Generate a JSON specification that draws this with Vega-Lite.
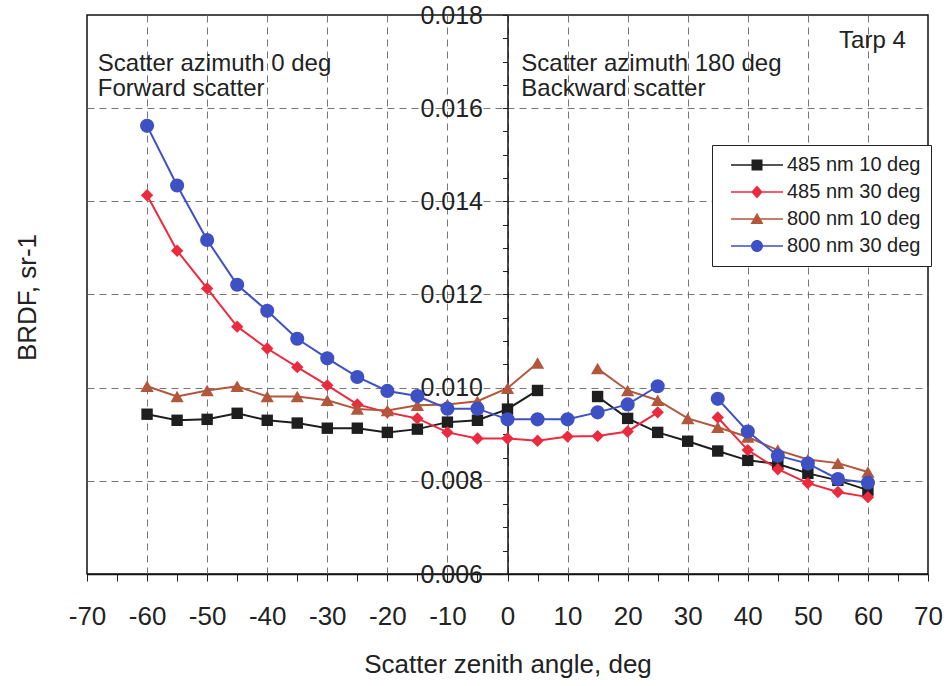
{
  "$schema": "https://vega.github.io/schema/vega-lite/v6.json",
  "width": 841,
  "height": 559,
  "autosize": "none",
  "padding": {"left": 87, "top": 15, "right": 21, "bottom": 112},
  "background": "white",
  "config": {
    "font": "Liberation Sans",
    "view": {"stroke": "#111", "strokeWidth": 1.5}
  },
  "resolve": {"scale": {"shape": "independent", "size": "independent"}, "legend": {"color": "independent", "shape": "independent", "size": "independent"}},
  "datasets": {
    "brdf": [
      {"series": "485 nm 10 deg", "angle": -60, "brdf": 0.00943},
      {"series": "485 nm 10 deg", "angle": -55, "brdf": 0.00930},
      {"series": "485 nm 10 deg", "angle": -50, "brdf": 0.00932},
      {"series": "485 nm 10 deg", "angle": -45, "brdf": 0.00945},
      {"series": "485 nm 10 deg", "angle": -40, "brdf": 0.00930},
      {"series": "485 nm 10 deg", "angle": -35, "brdf": 0.00924},
      {"series": "485 nm 10 deg", "angle": -30, "brdf": 0.00913},
      {"series": "485 nm 10 deg", "angle": -25, "brdf": 0.00913},
      {"series": "485 nm 10 deg", "angle": -20, "brdf": 0.00904},
      {"series": "485 nm 10 deg", "angle": -15, "brdf": 0.00911},
      {"series": "485 nm 10 deg", "angle": -10, "brdf": 0.00926},
      {"series": "485 nm 10 deg", "angle": -5, "brdf": 0.00930},
      {"series": "485 nm 10 deg", "angle": 0, "brdf": 0.00954},
      {"series": "485 nm 10 deg", "angle": 5, "brdf": 0.00994},
      {"series": "485 nm 10 deg", "angle": 10, "brdf": null},
      {"series": "485 nm 10 deg", "angle": 15, "brdf": 0.00981},
      {"series": "485 nm 10 deg", "angle": 20, "brdf": 0.00934},
      {"series": "485 nm 10 deg", "angle": 25, "brdf": 0.00904},
      {"series": "485 nm 10 deg", "angle": 30, "brdf": 0.00885},
      {"series": "485 nm 10 deg", "angle": 35, "brdf": 0.00864},
      {"series": "485 nm 10 deg", "angle": 40, "brdf": 0.00844},
      {"series": "485 nm 10 deg", "angle": 45, "brdf": 0.00836},
      {"series": "485 nm 10 deg", "angle": 50, "brdf": 0.00816},
      {"series": "485 nm 10 deg", "angle": 55, "brdf": 0.00801},
      {"series": "485 nm 10 deg", "angle": 60, "brdf": 0.00780},
      {"series": "485 nm 30 deg", "angle": -60, "brdf": 0.01413},
      {"series": "485 nm 30 deg", "angle": -55, "brdf": 0.01294},
      {"series": "485 nm 30 deg", "angle": -50, "brdf": 0.01213},
      {"series": "485 nm 30 deg", "angle": -45, "brdf": 0.01131},
      {"series": "485 nm 30 deg", "angle": -40, "brdf": 0.01084},
      {"series": "485 nm 30 deg", "angle": -35, "brdf": 0.01044},
      {"series": "485 nm 30 deg", "angle": -30, "brdf": 0.01005},
      {"series": "485 nm 30 deg", "angle": -25, "brdf": 0.00964},
      {"series": "485 nm 30 deg", "angle": -20, "brdf": 0.00947},
      {"series": "485 nm 30 deg", "angle": -15, "brdf": 0.00934},
      {"series": "485 nm 30 deg", "angle": -10, "brdf": 0.00904},
      {"series": "485 nm 30 deg", "angle": -5, "brdf": 0.00891},
      {"series": "485 nm 30 deg", "angle": 0, "brdf": 0.00891},
      {"series": "485 nm 30 deg", "angle": 5, "brdf": 0.00886},
      {"series": "485 nm 30 deg", "angle": 10, "brdf": 0.00895},
      {"series": "485 nm 30 deg", "angle": 15, "brdf": 0.00896},
      {"series": "485 nm 30 deg", "angle": 20, "brdf": 0.00906},
      {"series": "485 nm 30 deg", "angle": 25, "brdf": 0.00947},
      {"series": "485 nm 30 deg", "angle": 30, "brdf": null},
      {"series": "485 nm 30 deg", "angle": 35, "brdf": 0.00936},
      {"series": "485 nm 30 deg", "angle": 40, "brdf": 0.00866},
      {"series": "485 nm 30 deg", "angle": 45, "brdf": 0.00825},
      {"series": "485 nm 30 deg", "angle": 50, "brdf": 0.00795},
      {"series": "485 nm 30 deg", "angle": 55, "brdf": 0.00776},
      {"series": "485 nm 30 deg", "angle": 60, "brdf": 0.00765},
      {"series": "800 nm 10 deg", "angle": -60, "brdf": 0.01003},
      {"series": "800 nm 10 deg", "angle": -55, "brdf": 0.00981},
      {"series": "800 nm 10 deg", "angle": -50, "brdf": 0.00994},
      {"series": "800 nm 10 deg", "angle": -45, "brdf": 0.01003},
      {"series": "800 nm 10 deg", "angle": -40, "brdf": 0.00981},
      {"series": "800 nm 10 deg", "angle": -35, "brdf": 0.00981},
      {"series": "800 nm 10 deg", "angle": -30, "brdf": 0.00973},
      {"series": "800 nm 10 deg", "angle": -25, "brdf": 0.00954},
      {"series": "800 nm 10 deg", "angle": -20, "brdf": 0.00951},
      {"series": "800 nm 10 deg", "angle": -15, "brdf": 0.00962},
      {"series": "800 nm 10 deg", "angle": -10, "brdf": 0.00964},
      {"series": "800 nm 10 deg", "angle": -5, "brdf": 0.00971},
      {"series": "800 nm 10 deg", "angle": 0, "brdf": 0.00999},
      {"series": "800 nm 10 deg", "angle": 5, "brdf": 0.01053},
      {"series": "800 nm 10 deg", "angle": 10, "brdf": null},
      {"series": "800 nm 10 deg", "angle": 15, "brdf": 0.01041},
      {"series": "800 nm 10 deg", "angle": 20, "brdf": 0.00994},
      {"series": "800 nm 10 deg", "angle": 25, "brdf": 0.00973},
      {"series": "800 nm 10 deg", "angle": 30, "brdf": 0.00934},
      {"series": "800 nm 10 deg", "angle": 35, "brdf": 0.00915},
      {"series": "800 nm 10 deg", "angle": 40, "brdf": 0.00894},
      {"series": "800 nm 10 deg", "angle": 45, "brdf": 0.00866},
      {"series": "800 nm 10 deg", "angle": 50, "brdf": 0.00846},
      {"series": "800 nm 10 deg", "angle": 55, "brdf": 0.00838},
      {"series": "800 nm 10 deg", "angle": 60, "brdf": 0.00819},
      {"series": "800 nm 30 deg", "angle": -60, "brdf": 0.01562},
      {"series": "800 nm 30 deg", "angle": -55, "brdf": 0.01434},
      {"series": "800 nm 30 deg", "angle": -50, "brdf": 0.01317},
      {"series": "800 nm 30 deg", "angle": -45, "brdf": 0.01221},
      {"series": "800 nm 30 deg", "angle": -40, "brdf": 0.01165},
      {"series": "800 nm 30 deg", "angle": -35, "brdf": 0.01105},
      {"series": "800 nm 30 deg", "angle": -30, "brdf": 0.01063},
      {"series": "800 nm 30 deg", "angle": -25, "brdf": 0.01023},
      {"series": "800 nm 30 deg", "angle": -20, "brdf": 0.00993},
      {"series": "800 nm 30 deg", "angle": -15, "brdf": 0.00982},
      {"series": "800 nm 30 deg", "angle": -10, "brdf": 0.00955},
      {"series": "800 nm 30 deg", "angle": -5, "brdf": 0.00955},
      {"series": "800 nm 30 deg", "angle": 0, "brdf": 0.00932},
      {"series": "800 nm 30 deg", "angle": 5, "brdf": 0.00932},
      {"series": "800 nm 30 deg", "angle": 10, "brdf": 0.00932},
      {"series": "800 nm 30 deg", "angle": 15, "brdf": 0.00947},
      {"series": "800 nm 30 deg", "angle": 20, "brdf": 0.00964},
      {"series": "800 nm 30 deg", "angle": 25, "brdf": 0.01003},
      {"series": "800 nm 30 deg", "angle": 30, "brdf": null},
      {"series": "800 nm 30 deg", "angle": 35, "brdf": 0.00976},
      {"series": "800 nm 30 deg", "angle": 40, "brdf": 0.00906},
      {"series": "800 nm 30 deg", "angle": 45, "brdf": 0.00854},
      {"series": "800 nm 30 deg", "angle": 50, "brdf": 0.00837},
      {"series": "800 nm 30 deg", "angle": 55, "brdf": 0.00804},
      {"series": "800 nm 30 deg", "angle": 60, "brdf": 0.00796}
    ],
    "notes": [
      {"angle": -68.2, "brdf": 0.0168, "label": "Scatter azimuth 0 deg"},
      {"angle": -68.2, "brdf": 0.01626, "label": "Forward scatter"},
      {"angle": 2.3, "brdf": 0.0168, "label": "Scatter azimuth 180 deg"},
      {"angle": 2.3, "brdf": 0.01626, "label": "Backward scatter"},
      {"angle": 55.2, "brdf": 0.01729, "label": "Tarp 4"}
    ]
  },
  "encoding": {
    "x": {
      "field": "angle",
      "type": "quantitative",
      "scale": {"domain": [-70, 70], "nice": false, "zero": false},
      "axis": {
        "title": "Scatter zenith angle, deg",
        "values": [-70, -65, -60, -55, -50, -45, -40, -35, -30, -25, -20, -15, -10, -5, 0, 5, 10, 15, 20, 25, 30, 35, 40, 45, 50, 55, 60, 65, 70],
        "labelExpr": "datum.value % 10 === 0 ? '' + datum.value : ''",
        "labelFont": "Liberation Sans",
        "labelFontSize": 26,
        "labelColor": "#222",
        "labelPadding": 22,
        "labelFlush": false,
        "labelOverlap": false,
        "tickSize": 7,
        "tickColor": "#222",
        "tickWidth": 1,
        "domainColor": "#111",
        "domainWidth": 1.5,
        "grid": true,
        "gridColor": "#777",
        "gridDash": [7, 5],
        "gridWidth": 1,
        "gridOpacity": {"condition": {"test": "datum.value % 10 === 0 && abs(datum.value) < 70", "value": 1}, "value": 0},
        "titleFont": "Liberation Sans",
        "titleFontSize": 26,
        "titleFontWeight": "normal",
        "titleColor": "#222",
        "titleY": 98,
        "titleBaseline": "alphabetic"
      }
    },
    "y": {
      "field": "brdf",
      "type": "quantitative",
      "scale": {"domain": [0.006, 0.018], "nice": false, "zero": false},
      "axis": {
        "title": "BRDF, sr-1",
        "offset": -420.5,
        "values": [0.006, 0.0065, 0.007, 0.0075, 0.008, 0.0085, 0.009, 0.0095, 0.01, 0.0105, 0.011, 0.0115, 0.012, 0.0125, 0.013, 0.0135, 0.014, 0.0145, 0.015, 0.0155, 0.016, 0.0165, 0.017, 0.0175, 0.018],
        "labelExpr": "round(datum.value * 10000) % 20 === 0 ? format(datum.value, '.3f') : ''",
        "labelFont": "Liberation Sans",
        "labelFontSize": 25,
        "labelColor": "#222",
        "labelPadding": 20,
        "labelFlush": false,
        "labelOverlap": false,
        "tickSize": 5,
        "tickColor": "#222",
        "domainColor": "#111",
        "domainWidth": 1.5,
        "grid": true,
        "gridColor": "#777",
        "gridDash": [7, 5],
        "gridWidth": 1,
        "gridOpacity": {"condition": {"test": "round(datum.value * 10000) % 20 === 0 && datum.value > 0.0065 && datum.value < 0.0175", "value": 1}, "value": 0},
        "titleFont": "Liberation Sans",
        "titleFontSize": 26,
        "titleFontWeight": "normal",
        "titleColor": "#222",
        "titleAngle": 270,
        "titleX": -480,
        "titleY": 282,
        "titleAlign": "center",
        "titleBaseline": "middle"
      }
    }
  },
  "layer": [
    {
      "data": {"name": "brdf"},
      "mark": {"type": "line", "strokeWidth": 2},
      "encoding": {
        "color": {
          "field": "series",
          "type": "nominal",
          "sort": ["485 nm 10 deg", "485 nm 30 deg", "800 nm 10 deg", "800 nm 30 deg"],
          "scale": {"domain": ["485 nm 10 deg", "485 nm 30 deg", "800 nm 10 deg", "800 nm 30 deg"], "range": ["#1e1e1e", "#ec2a3e", "#b2573c", "#3e51c4"]},
          "legend": null
        }
      }
    },
    {
      "data": {"name": "brdf"},
      "mark": {"type": "point", "filled": true, "opacity": 1},
      "encoding": {
        "color": {"field": "series", "type": "nominal", "legend": null},
        "shape": {
          "field": "series",
          "type": "nominal",
          "scale": {"domain": ["485 nm 10 deg", "485 nm 30 deg", "800 nm 10 deg", "800 nm 30 deg"], "range": ["square", "diamond", "triangle-up", "circle"]},
          "legend": null
        },
        "size": {
          "field": "series",
          "type": "nominal",
          "scale": {"domain": ["485 nm 10 deg", "485 nm 30 deg", "800 nm 10 deg", "800 nm 30 deg"], "range": [130, 200, 200, 160]},
          "legend": null
        }
      }
    },
    {
      "data": {"name": "brdf"},
      "transform": [{"filter": "false"}],
      "mark": {"type": "point", "filled": true, "opacity": 1},
      "encoding": {
        "color": {
          "field": "series",
          "type": "nominal",
          "legend": {
            "title": null,
            "orient": "none",
            "legendX": 625,
            "legendY": 130,
            "direction": "vertical",
            "strokeColor": "#222",
            "fillColor": "white",
            "padding": 10,
            "labelFont": "Liberation Sans",
            "labelFontSize": 20,
            "labelColor": "#222",
            "labelLimit": 300,
            "symbolSize": 100,
            "symbolOffset": 25,
            "labelOffset": 20,
            "rowPadding": 7,
            "symbolStrokeWidth": 0
          }
        },
        "shape": {
          "field": "series",
          "type": "nominal",
          "scale": {"domain": ["485 nm 10 deg", "485 nm 30 deg", "800 nm 10 deg", "800 nm 30 deg"], "range": ["M-5.2,-0.16H5.2V0.16H-5.2ZM-1.1,-1.1H1.1V1.1H-1.1Z", "M-5.2,-0.16H5.2V0.16H-5.2ZM0,-1.3L1.15,0L0,1.3L-1.15,0Z", "M-5.2,-0.16H5.2V0.16H-5.2ZM0,-1.25L1.3,1L-1.3,1Z", "M-5.2,-0.16H5.2V0.16H-5.2ZM-1.2,0A1.2,1.2,0,1,1,1.2,0A1.2,1.2,0,1,1,-1.2,0Z"]},
          "legend": {
            "title": null,
            "orient": "none",
            "legendX": 625,
            "legendY": 130,
            "direction": "vertical",
            "strokeColor": "#222",
            "fillColor": "white",
            "padding": 10,
            "labelFont": "Liberation Sans",
            "labelFontSize": 20,
            "labelColor": "#222",
            "labelLimit": 300,
            "symbolSize": 100,
            "symbolOffset": 25,
            "labelOffset": 20,
            "rowPadding": 7,
            "symbolStrokeWidth": 0
          }
        }
      }
    },
    {
      "data": {"name": "notes"},
      "mark": {"type": "text", "align": "left", "baseline": "alphabetic", "font": "Liberation Sans", "fontSize": 24, "color": "#222"},
      "encoding": {
        "text": {"field": "label", "type": "nominal"}
      }
    }
  ]
}
